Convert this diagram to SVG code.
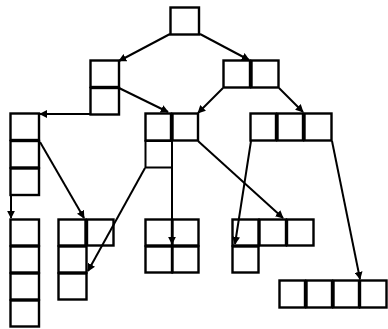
<svg xmlns="http://www.w3.org/2000/svg" width="388" height="329" viewBox="0 0 388 329">
<style>
.c{fill:#fff;stroke:#000;stroke-width:2.4}
.e{fill:none;stroke:#000;stroke-width:2;marker-end:url(#a)}
</style>
<defs>
<marker id="a" viewBox="0 0 10 10" refX="9" refY="5" markerWidth="4" markerHeight="4" orient="auto" markerUnits="strokeWidth">
<path d="M0,0 L10,5 L0,10 z" fill="#000"/>
</marker>
</defs>
<rect width="388" height="329" fill="#fff"/>
<g id="n0"><rect class="c" x="170.5" y="7.5" width="28.5" height="27"/></g>
<g id="n1">
<rect class="c" x="90.5" y="60.5" width="28.5" height="26.5"/>
<rect class="c" x="90.5" y="88" width="28.5" height="26.5"/>
</g>
<g id="n2">
<rect class="c" x="223.5" y="60.5" width="26.5" height="27"/>
<rect class="c" x="251.5" y="60.5" width="27" height="27"/>
</g>
<g id="n3">
<rect class="c" x="10.5" y="113.5" width="28.5" height="26.5"/>
<rect class="c" x="10.5" y="141" width="28.5" height="26.5"/>
<rect class="c" x="10.5" y="168.5" width="28.5" height="26.5"/>
</g>
<g id="n4">
<rect class="c" x="145.5" y="113.5" width="25.5" height="27"/>
<rect class="c" x="172.5" y="113.5" width="25.5" height="27"/>
<rect class="c" x="145.5" y="141" width="26.5" height="26.5" style="stroke-width:2"/>
</g>
<g id="n5">
<rect class="c" x="250.5" y="113.5" width="25.5" height="27"/>
<rect class="c" x="277.5" y="113.5" width="25.5" height="27"/>
<rect class="c" x="304.5" y="113.5" width="27" height="27"/>
</g>
<g id="n6">
<rect class="c" x="10.5" y="219.5" width="28.5" height="26"/>
<rect class="c" x="10.5" y="246.5" width="28.5" height="26"/>
<rect class="c" x="10.5" y="273.5" width="28.5" height="26"/>
<rect class="c" x="10.5" y="300.5" width="28.5" height="26"/>
</g>
<g id="n7">
<rect class="c" x="58.5" y="219.5" width="27" height="26"/>
<rect class="c" x="87" y="219.5" width="26.5" height="26"/>
<rect class="c" x="58.5" y="246.5" width="28" height="26"/>
<rect class="c" x="58.5" y="273.5" width="28" height="26"/>
</g>
<g id="n8">
<rect class="c" x="145.5" y="219.5" width="26.5" height="26"/>
<rect class="c" x="172.5" y="219.5" width="26" height="26"/>
<rect class="c" x="145.5" y="246.5" width="26.5" height="26"/>
<rect class="c" x="172.5" y="246.5" width="26" height="26"/>
</g>
<g id="n9">
<rect class="c" x="232.5" y="219.5" width="26" height="26"/>
<rect class="c" x="259.5" y="219.5" width="26.5" height="26"/>
<rect class="c" x="287" y="219.5" width="26.5" height="26"/>
<rect class="c" x="232.5" y="246.5" width="26" height="26"/>
</g>
<g id="n10">
<rect class="c" x="279.5" y="280.5" width="25.5" height="27"/>
<rect class="c" x="306.5" y="280.5" width="25.5" height="27"/>
<rect class="c" x="333.5" y="280.5" width="25.5" height="27"/>
<rect class="c" x="360" y="280.5" width="26.5" height="27"/>
</g>
<g id="connectors">
<line class="e" x1="170" y1="34" x2="119" y2="61"/>
<line class="e" x1="200" y1="34" x2="249" y2="60"/>
<line class="e" x1="119" y1="88" x2="168" y2="112"/>
<line class="e" x1="90" y1="114" x2="40" y2="114"/>
<line class="e" x1="223" y1="88" x2="198" y2="113"/>
<line class="e" x1="279" y1="88" x2="303" y2="112"/>
<line class="e" x1="11" y1="195" x2="11" y2="218"/>
<line class="e" x1="40" y1="142" x2="84" y2="218"/>
<line class="e" x1="145" y1="168" x2="88" y2="271"/>
<line class="e" x1="172" y1="141" x2="172" y2="244"/>
<line class="e" x1="198" y1="141" x2="283" y2="218"/>
<line class="e" x1="251" y1="141" x2="235" y2="244"/>
<line class="e" x1="332" y1="141" x2="360" y2="279"/>
</g>
</svg>
